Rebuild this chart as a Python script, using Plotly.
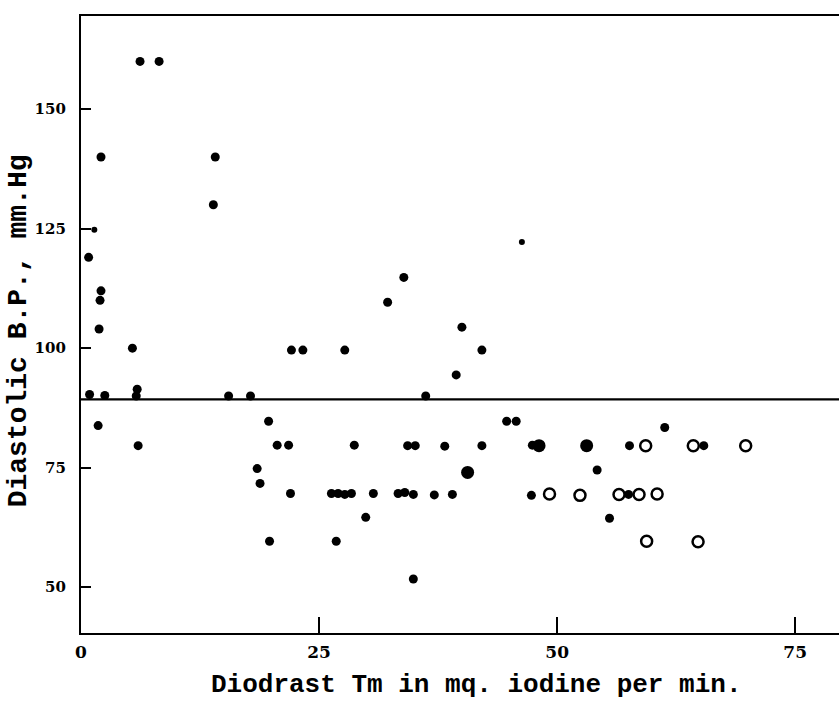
import plotly.graph_objects as go

# Filled (solid) points
filled_x = [6.2, 8.2, 2.1, 14.1, 13.9,
            0.8, 2.1, 2.0, 1.9, 5.4, 22.1, 23.3, 27.7,
            0.9, 2.5, 5.9, 5.8, 15.5, 17.8, 36.2,
            19.7, 1.8, 6.0,
            20.6, 21.8, 28.7, 34.3, 35.1, 38.2, 42.1, 47.4, 57.6, 65.4,
            18.5, 18.8, 54.2,
            22.0, 26.3, 27.0, 27.7, 28.4, 30.7, 33.3, 34.0, 34.9, 37.1, 39.0, 47.3, 57.5,
            29.9, 55.5, 19.8, 26.8, 34.9, 44.7, 45.7, 61.3,
            33.9, 32.2, 40.0, 42.1, 39.4]
filled_y = [160, 160, 140, 140, 130,
            119, 112, 110, 104, 100, 99.6, 99.6, 99.6,
            90.3, 90.1, 91.4, 90, 90, 90, 90,
            84.7, 83.8, 79.6,
            79.7, 79.7, 79.7, 79.6, 79.6, 79.5, 79.6, 79.7, 79.6, 79.6,
            74.8, 71.7, 74.5,
            69.6, 69.6, 69.6, 69.4, 69.6, 69.6, 69.6, 69.8, 69.4, 69.3, 69.4, 69.2, 69.4,
            64.6, 64.4, 59.6, 59.6, 51.7, 84.7, 84.7, 83.4,
            114.8, 109.6, 104.4, 99.6, 94.4]

# Larger solid points
big_x = [40.6, 48.1, 53.1]
big_y = [74.0, 79.6, 79.6]

# Small solid points
small_x = [46.3, 1.4]
small_y = [122.2, 124.8]

# Open circles
open_x = [59.3, 64.3, 69.8, 49.2, 52.4, 56.5, 58.6, 60.5, 59.4, 64.8]
open_y = [79.6, 79.6, 79.6, 69.5, 69.2, 69.4, 69.4, 69.5, 59.6, 59.5]

# Reference line
ref_level = 89.3

x_ticks = [25, 50, 75]
y_ticks = [50, 75, 100, 125, 150]

x_title = "Diodrast Tm in mq. iodine per min."
y_title = "Diastolic B.P., mm.Hg"

fig = go.Figure()
fig.add_trace(go.Scatter(x=filled_x, y=filled_y, mode="markers",
                         marker=dict(color="black", size=9, line=dict(width=0)),
                         showlegend=False))
fig.add_trace(go.Scatter(x=big_x, y=big_y, mode="markers",
                         marker=dict(color="black", size=13, line=dict(width=0)),
                         showlegend=False))
fig.add_trace(go.Scatter(x=small_x, y=small_y, mode="markers",
                         marker=dict(color="black", size=6, line=dict(width=0)),
                         showlegend=False))
fig.add_trace(go.Scatter(x=open_x, y=open_y, mode="markers",
                         marker=dict(color="white", size=11, symbol="circle",
                                     line=dict(color="black", width=2.5)),
                         showlegend=False))

fig.add_shape(type="line", xref="paper", yref="y", x0=0, x1=1, y0=ref_level, y1=ref_level,
              line=dict(color="black", width=2.2), layer="below")

tick_family = "DejaVu Serif"
title_family = "Liberation Mono"

fig.add_annotation(text=x_title, xref="paper", yref="paper", x=0.522, y=-0.084,
                   xanchor="center", yanchor="middle", showarrow=False,
                   font=dict(size=26, family=title_family, weight="bold", color="black"))
fig.add_annotation(text=y_title, xref="paper", yref="paper", x=-0.083, y=0.489,
                   xanchor="center", yanchor="middle", showarrow=False, textangle=-90,
                   font=dict(size=28, family=title_family, weight="bold", color="black"))

fig.update_layout(
    width=839, height=701,
    margin=dict(l=81, r=0, t=16, b=68),
    paper_bgcolor="white", plot_bgcolor="white",
    font=dict(family=tick_family, color="black"),
    xaxis=dict(range=[0, 79.6], showgrid=False, zeroline=False, automargin=False,
               showline=True, mirror=True, linecolor="black", linewidth=2.2,
               ticks="inside", ticklen=16, tickwidth=2, tickcolor="black",
               tickvals=[0] + x_ticks, ticktext=["0"] + [str(v) for v in x_ticks],
               tickfont=dict(size=17, family=tick_family, weight="bold"),
               ticklabelstandoff=2),
    yaxis=dict(range=[40.4, 169.5], showgrid=False, zeroline=False, automargin=False,
               showline=True, mirror=False, linecolor="black", linewidth=2.2,
               ticks="inside", ticklen=10, tickwidth=2, tickcolor="black",
               tickvals=y_ticks, ticktext=[str(v) for v in y_ticks],
               tickfont=dict(size=15, family=tick_family, weight="bold"),
               ticklabelstandoff=10),
)

fig.write_html(
    "out.html",
    config={"displayModeBar": False},
    post_script="document.body.style.margin='0';document.body.style.overflow='hidden';",
)
